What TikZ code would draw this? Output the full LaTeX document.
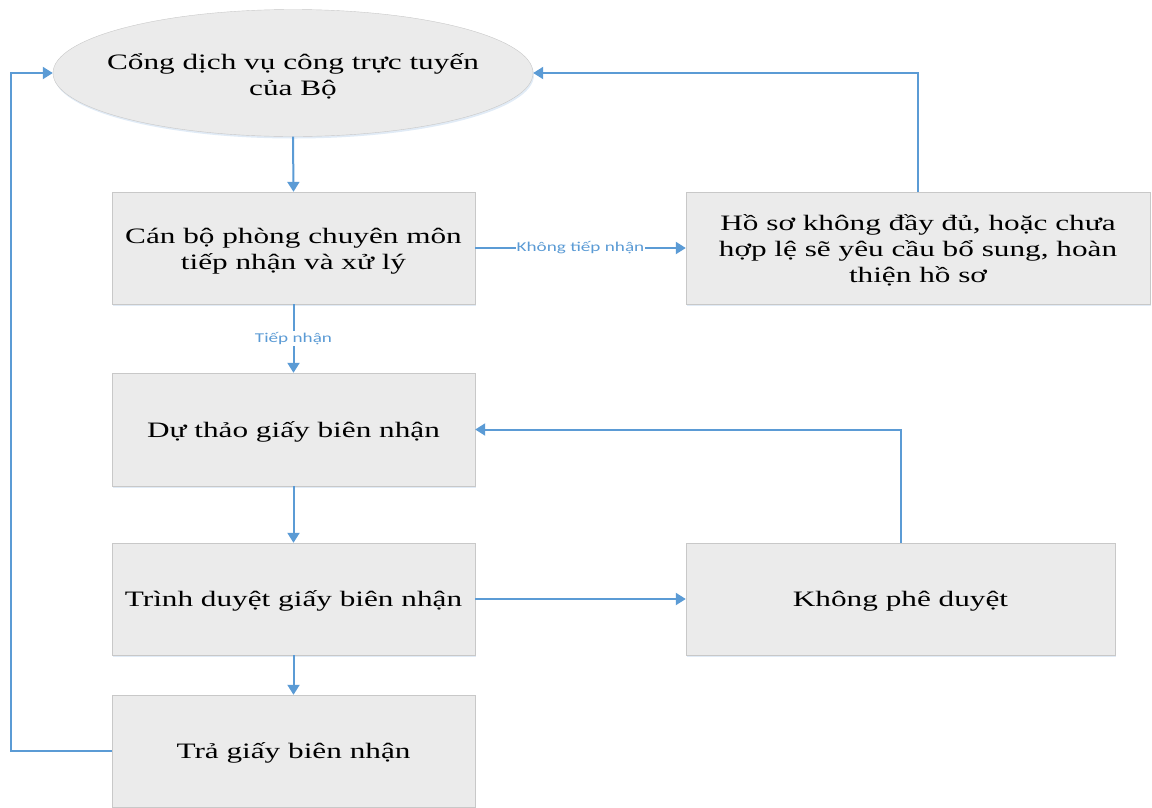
\documentclass[tikz,border=0pt]{standalone}
\usepackage{fontspec}
\setmainfont[FakeStretch=1.42]{Liberation Serif}
\newfontfamily\lblfont[FakeStretch=1.42]{Carlito}
\usepackage{tikz}
\usetikzlibrary{shapes,arrows.meta,shadows}

\begin{document}
\begin{tikzpicture} [x=1pt, y=-1pt,
    box/.style={draw=boxline, fill=boxfill, rectangle, minimum width=363pt, minimum height=112pt,
                align=center, font=\fontsize{22}{26}\selectfont, inner sep=0pt,
                drop shadow={shadow xshift=1pt, shadow yshift=-2pt, fill=shade, opacity=.6}},
    txt/.style={align=center, font=\fontsize{22}{26}\selectfont, inner sep=0pt},
    flow/.style={draw=flowblue, line width=2pt, -{Triangle[width=12pt,length=10pt]}},
    lbl/.style={fill=white, text=flowblue, inner sep=1pt, font=\lblfont\fontsize{13.5}{15}\selectfont}]
    % colours %
    \definecolor{boxfill}{RGB}{235,235,235}
    \definecolor{boxline}{RGB}{200,200,200}
    \definecolor{shade}{RGB}{205,222,240}
    \definecolor{flowblue}{RGB}{91,155,213}
    \useasboundingbox (0,0) rectangle (1152,807);

    % boxes %
    \node [box, ellipse, minimum width=480pt, minimum height=127pt] (portal) at (293,73) {};
    \node [txt] at ([yshift=-3pt]portal.center) {Cổng dịch vụ công trực tuyến\\của Bộ};
    \node [box] (canbo) at (293.5,248) {\rule{0pt}{21pt}Cán bộ phòng chuyên môn\\tiếp nhận và xử lý};
    \node [box, minimum width=464pt] (hoso) at (918,248)
        {\rule{0pt}{20pt}Hồ sơ không đầy đủ, hoặc chưa\\hợp lệ sẽ yêu cầu bổ sung, hoàn\\thiện hồ sơ};
    \node [box, minimum height=113pt] (duthao) at (293.5,429.5) {\rule{0pt}{20pt}Dự thảo giấy biên nhận};
    \node [box] (trinh) at (293.5,599) {\rule{0pt}{20pt}Trình duyệt giấy biên nhận};
    \node [box, minimum width=429pt] (khongpd) at (900.5,599) {\rule{0pt}{20pt}Không phê duyệt};
    \node [box] (tra) at (293.5,751) {\rule{0pt}{20pt}Trả giấy biên nhận};
    \coordinate (back) at (11,751);

    % arrows %
    \draw [flow] (portal.south) -- (canbo.north);
    \draw [flow] (canbo.east) -- node [lbl] {Không tiếp nhận} (hoso.west);
    \draw [flow] (hoso.north) |- (portal.east);
    \draw [flow] (canbo.south) -- node [lbl] {Tiếp nhận} (duthao.north);
    \draw [flow] (duthao.south) -- (trinh.north);
    \draw [flow] (trinh.east) -- (khongpd.west);
    \draw [flow] (khongpd.north) |- (duthao.east);
    \draw [flow] (trinh.south) -- (tra.north);
    \draw [flow] (tra.west) -- (back) |- (portal.west);
\end{tikzpicture}
\end{document}
